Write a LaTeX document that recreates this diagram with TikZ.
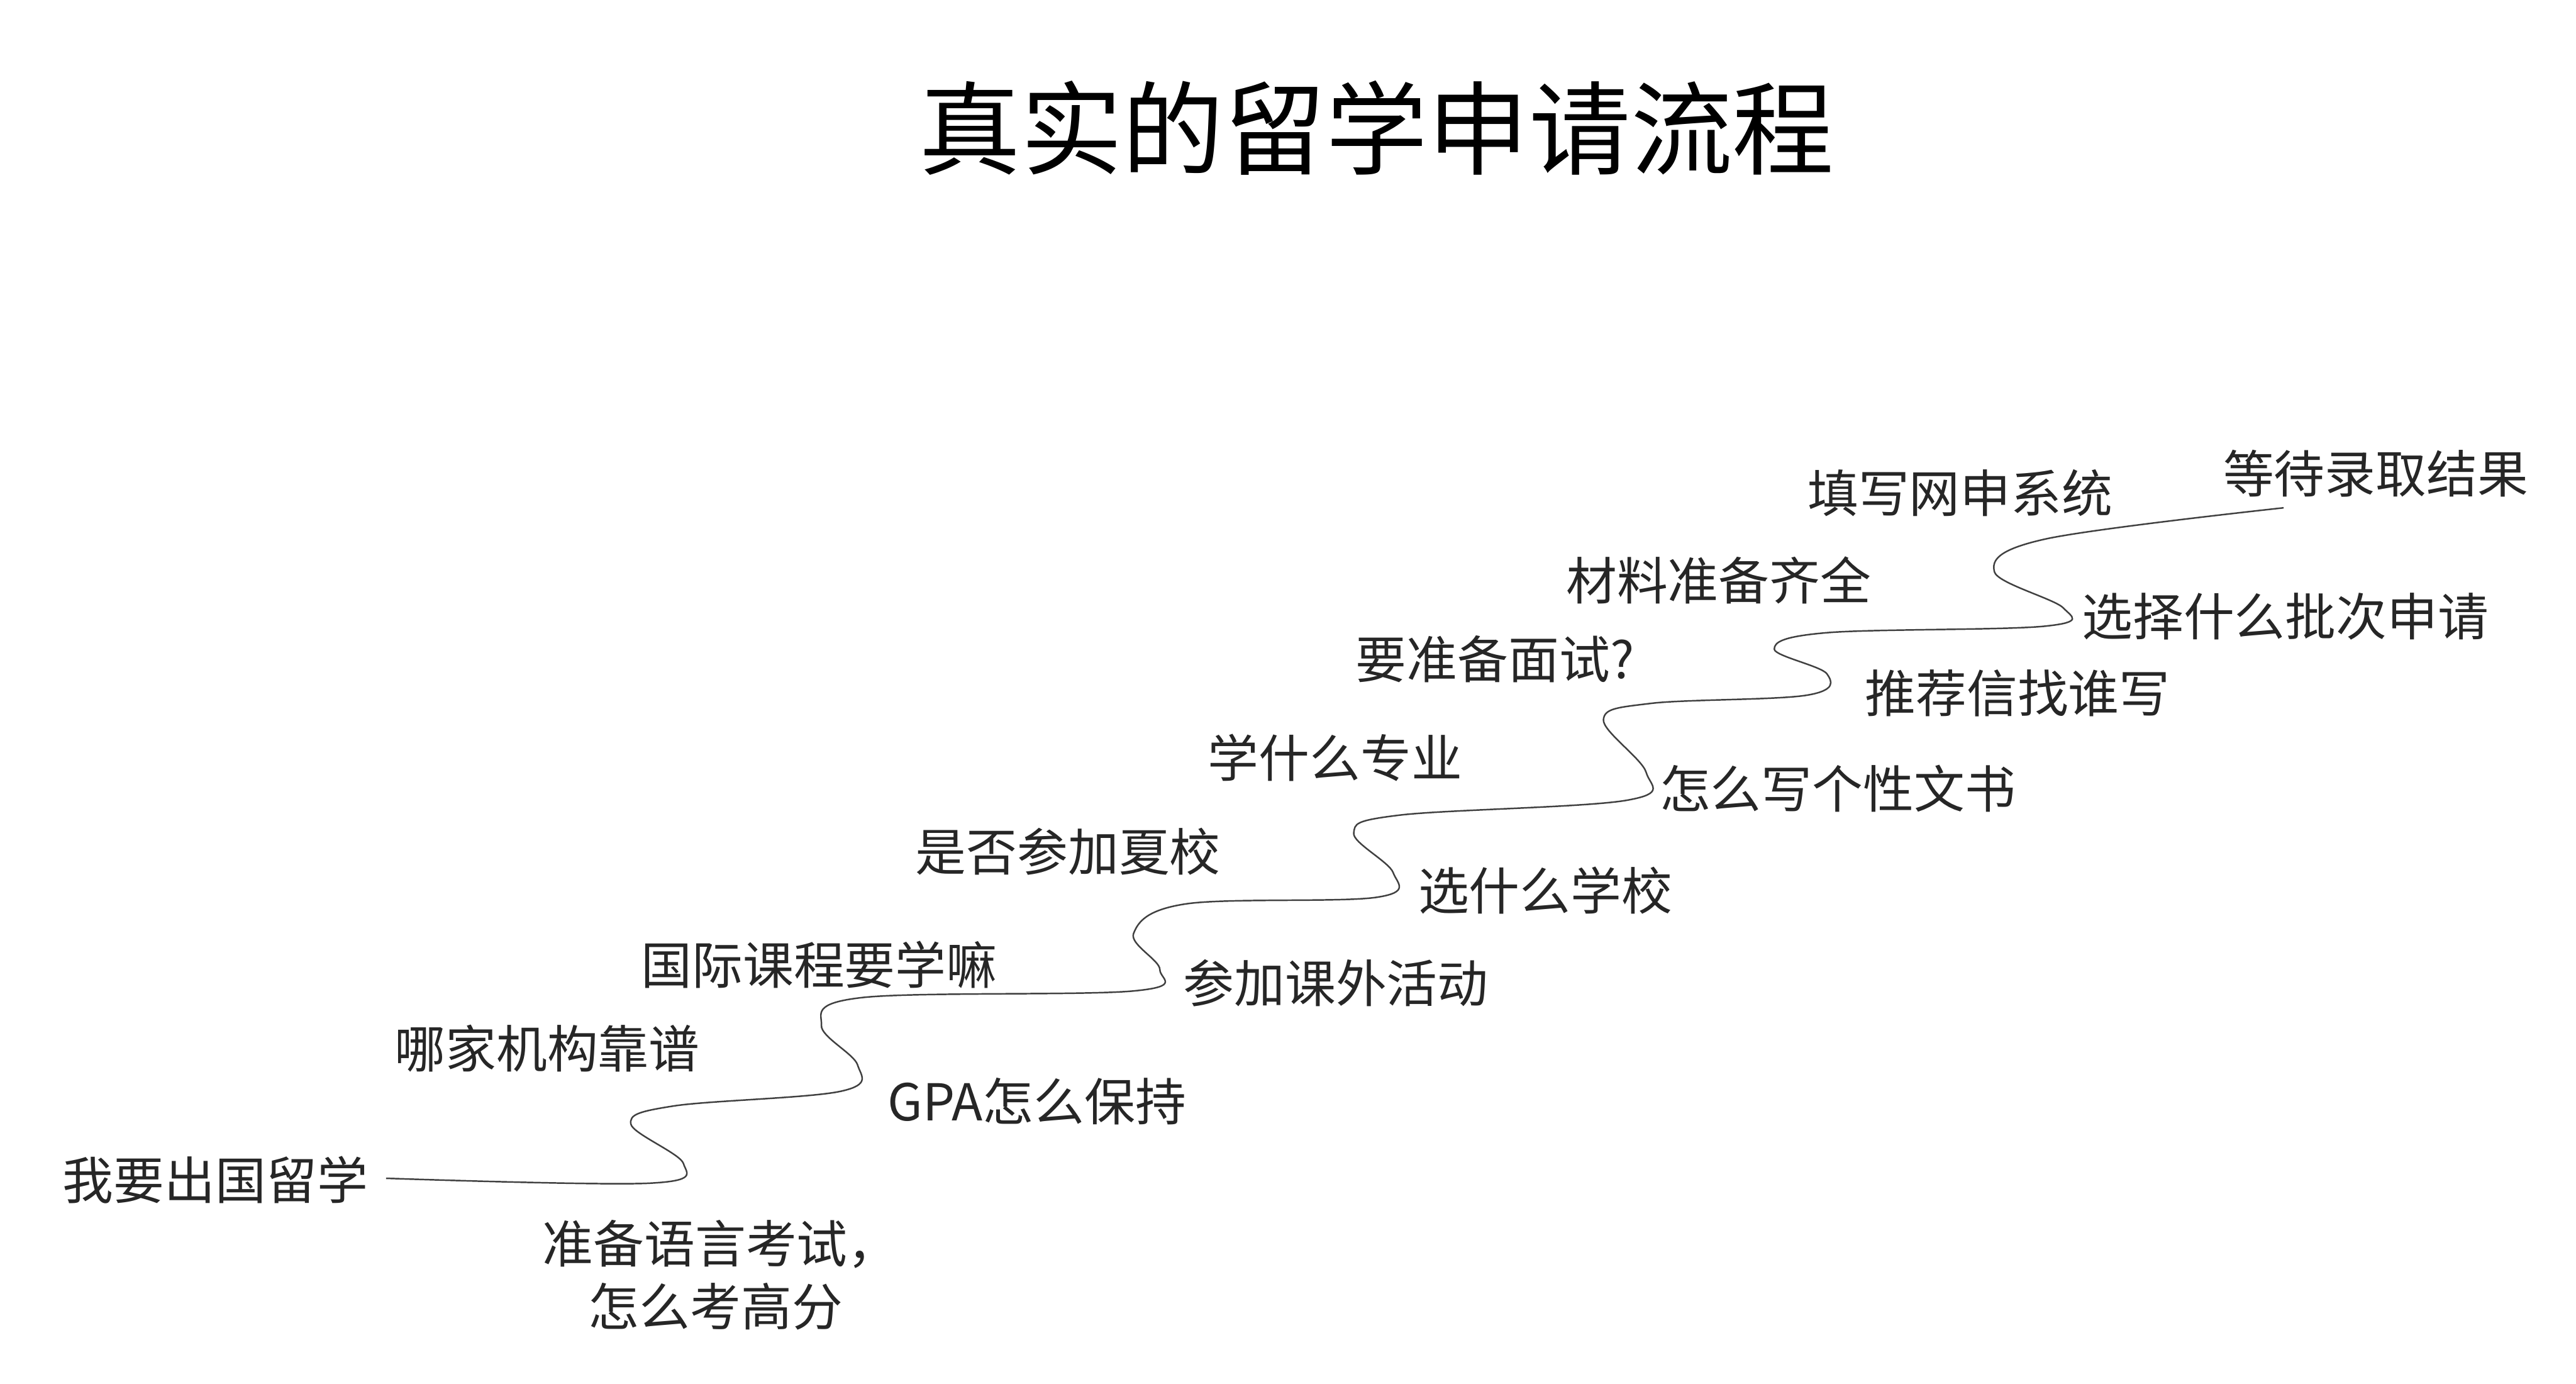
\documentclass[tikz,border=0pt]{standalone}
\usepackage{fontspec}
\setmainfont{Noto Sans CJK SC}
\begin{document}
\begin{tikzpicture}[x=0.026122cm,y=-0.026122cm,
  lab/.style={anchor=west,inner sep=0pt,font=\fontsize{23}{27}\selectfont,text=black!85}]
\useasboundingbox (0,0) rectangle (1568,842);
\node[font=\fontsize{46}{52}\selectfont] (title) at (838,78) {真实的留学申请流程};
\draw[black!75,line width=0.7pt] plot[smooth,tension=0.6] coordinates {
(235,717)(395,720)(416,708)(384,684)(410,673)(512,664)(522,648)(500,624)(525,607)(690,603)(706,590)(690,568)(722,550)(838,546)(848,531)(824,507)(852,496)(990,487)(1002,470)(976,438)(1005,428)(1100,423)(1112,410)(1080,395)(1112,385)(1245,381)(1256,370)(1214,348)(1245,328)(1390,309)};
\node[lab] (n1) at (38,718) {我要出国留学};
\node[lab] (n2) at (330,757) {准备语言考试，};
\node[lab] (n2b) at (358,795) {怎么考高分};
\node[lab] (n3) at (240,638) {哪家机构靠谱};
\node[lab] (n4) at (540,670) {GPA怎么保持};
\node[lab] (n5) at (390,587) {国际课程要学嘛};
\node[lab] (n6) at (720,598) {参加课外活动};
\node[lab] (n7) at (557,518) {是否参加夏校};
\node[lab] (n8) at (863,542) {选什么学校};
\node[lab] (n9) at (735,461) {学什么专业};
\node[lab] (n10) at (1010,480) {怎么写个性文书};
\node[lab] (n11) at (825,401) {要准备面试?};
\node[lab] (n12) at (1135,422) {推荐信找谁写};
\node[lab] (n13) at (953,353) {材料准备齐全};
\node[lab] (n14) at (1267,375) {选择什么批次申请};
\node[lab] (n15) at (1100,300) {填写网申系统};
\node[lab] (n16) at (1353,288) {等待录取结果};
\end{tikzpicture}
\end{document}
